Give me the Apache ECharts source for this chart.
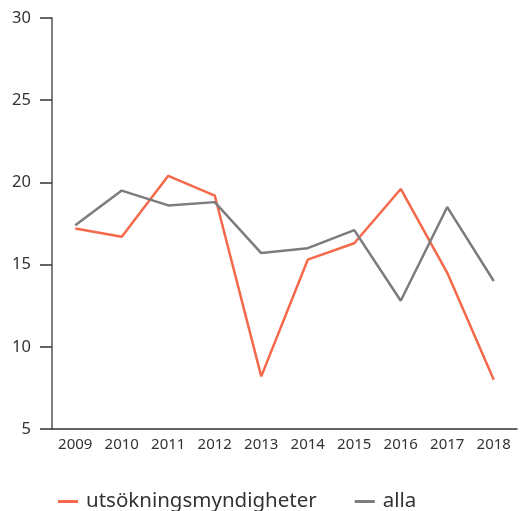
<!DOCTYPE html>
<html>
<head>
<meta charset="utf-8">
<script src="https://cdn.jsdelivr.net/npm/echarts@6/dist/echarts.min.js"></script>
<style>
  html, body { margin: 0; padding: 0; background: #fff; }
  #chart { width: 520px; height: 511px; }
</style>
</head>
<body>
<div id="chart"></div>
<script>
// data
var years = ['2009', '2010', '2011', '2012', '2013', '2014', '2015', '2016', '2017', '2018'];
var utsokning = [17.2, 16.7, 20.4, 19.2, 8.2, 15.3, 16.3, 19.6, 14.5, 8.0];
var alla = [17.4, 19.5, 18.6, 18.8, 15.7, 16.0, 17.1, 12.8, 18.5, 14.0];

(function(){
    var myChart = echarts.init(document.getElementById('chart'));

    var option = {
        animation: false,
        textStyle: { fontFamily: '"Noto Sans", sans-serif' },
        grid: {
            left: 52,
            right: 3,
            top: 18,
            bottom: 82,
            containLabel: false
        },
        legend: {
            left: 53,
            top: 486,
            itemWidth: 20,
            itemHeight: 3,
            itemGap: 38,
            icon: 'rect',
            textStyle: { fontSize: 20.5, color: '#333', padding: [0, 0, 0, 3] },
            data: ['utsökningsmyndigheter', 'alla']
        },
        xAxis: {
            type: 'category',
            boundaryGap: true,
            data: years,
            axisLine: { lineStyle: { color: '#333', width: 1.5 } },
            axisTick: { inside: true, length: 10, lineStyle: { color: '#333', width: 1.5 } },
            axisLabel: { fontSize: 15, color: '#333', margin: 8 }
        },
        yAxis: {
            type: 'value',
            min: 5,
            max: 30,
            interval: 5,
            splitLine: { show: false },
            axisLine: { show: true, lineStyle: { color: '#555', width: 1.5 } },
            axisTick: { show: true, length: 12, lineStyle: { color: '#333', width: 1.5 } },
            axisLabel: { fontSize: 16.5, color: '#333', margin: 21 }
        },
        series: [
            {
                name: 'utsökningsmyndigheter',
                type: 'line',
                data: utsokning,
                symbol: 'none',
                itemStyle: { color: '#f4694a' },
                lineStyle: { color: '#f4694a', width: 2.5 }
            },
            {
                name: 'alla',
                type: 'line',
                data: alla,
                symbol: 'none',
                itemStyle: { color: '#7b7b80' },
                lineStyle: { color: '#7b7b80', width: 2.5 }
            }
        ]
    };

    myChart.setOption(option);
})();
</script>
</body>
</html>
